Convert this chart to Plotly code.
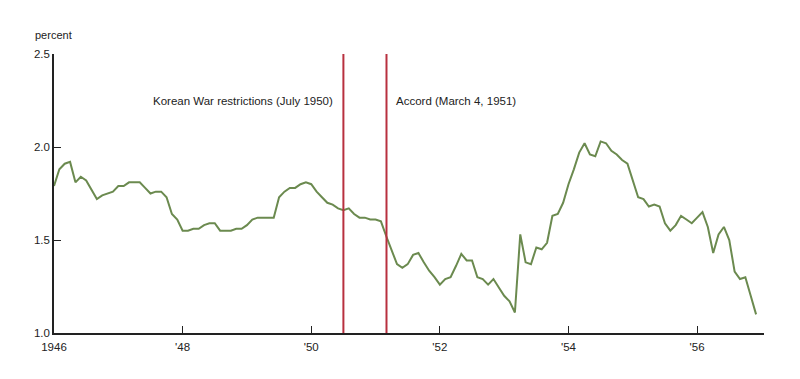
import plotly.graph_objects as go

start_year = 1946
values = [
    1.79, 1.88, 1.91, 1.92, 1.81, 1.84, 1.82, 1.77, 1.72, 1.74, 1.75, 1.76,
    1.79, 1.79, 1.81, 1.81, 1.81, 1.78, 1.75, 1.76, 1.76, 1.73, 1.64, 1.61,
    1.55, 1.55, 1.56, 1.56, 1.58, 1.59, 1.59, 1.55, 1.55, 1.55, 1.56, 1.56,
    1.58, 1.61, 1.62, 1.62, 1.62, 1.62, 1.73, 1.76, 1.78, 1.78, 1.80, 1.81,
    1.80, 1.76, 1.73, 1.70, 1.69, 1.67, 1.66, 1.67, 1.64, 1.62, 1.62, 1.61,
    1.61, 1.60, 1.52, 1.44, 1.37, 1.35, 1.37, 1.42, 1.43, 1.38, 1.335, 1.30,
    1.26, 1.29, 1.30, 1.36, 1.425, 1.39, 1.39, 1.30, 1.29, 1.26, 1.29, 1.245,
    1.20, 1.17, 1.11, 1.53, 1.38, 1.37, 1.46, 1.45, 1.485, 1.63, 1.64, 1.70,
    1.80, 1.88, 1.97, 2.02, 1.96, 1.95, 2.03, 2.02, 1.98, 1.96, 1.93, 1.91,
    1.82, 1.73, 1.72, 1.68, 1.69, 1.68, 1.59, 1.55, 1.58, 1.63, 1.61, 1.59,
    1.62, 1.65, 1.57, 1.43, 1.53, 1.57, 1.50, 1.33, 1.29, 1.30, 1.20, 1.10,
]
months = [start_year + i / 12 for i in range(len(values))]

tick_vals = [1946, 1948, 1950, 1952, 1954, 1956]
tick_text = ["1946", "'48", "'50", "'52", "'54", "'56"]
y_ticks = [1.0, 1.5, 2.0, 2.5]
y_tick_text = ["1.0", "1.5", "2.0", "2.5"]

event_dates = [1950.5, 1951.17]
event_labels = ["Korean War restrictions (July 1950)", "Accord (March 4, 1951)"]

FONT = "Liberation Sans, Arial, sans-serif"
fig = go.Figure()
fig.add_trace(go.Scatter(x=months, y=values, mode="lines",
                         line=dict(color="#6b8a4f", width=2), hoverinfo="skip"))

for d in event_dates:
    fig.add_shape(type="line", x0=d, x1=d, y0=1.0, y1=2.5, xref="x", yref="y",
                  line=dict(color="#b8303f", width=2))

fig.add_annotation(x=event_dates[0], y=2.25, xref="x", yref="y", text=event_labels[0],
                   showarrow=False, xanchor="right", xshift=-8,
                   font=dict(family=FONT, size=11.5, color="#222"))
fig.add_annotation(x=event_dates[1], y=2.25, xref="x", yref="y", text=event_labels[1],
                   showarrow=False, xanchor="left", xshift=8,
                   font=dict(family=FONT, size=11.5, color="#222"))
fig.add_annotation(x=-0.03, y=1.068, xref="paper", yref="paper", text="percent",
                   showarrow=False, xanchor="left", yanchor="middle",
                   font=dict(family=FONT, size=11, color="#222"))

fig.update_layout(
    width=800, height=379,
    margin=dict(l=46, r=44, t=46, b=54),
    paper_bgcolor="white", plot_bgcolor="white",
    showlegend=False,
    font=dict(family=FONT, size=11.5, color="#222"),
    xaxis=dict(range=[1946, 1957.04], tickvals=tick_vals, ticktext=tick_text,
               ticks="inside", ticklen=7, tickwidth=1.3, tickcolor="#222",
               showline=True, linecolor="#222", linewidth=1.5,
               showgrid=False, zeroline=False, ticklabelstandoff=2),
    yaxis=dict(range=[1.0, 2.5], tickvals=y_ticks, ticktext=y_tick_text,
               ticks="inside", ticklen=7, tickwidth=1.3, tickcolor="#222",
               showline=True, linecolor="#222", linewidth=1.5,
               showgrid=False, zeroline=False),
)

fig.write_html("out.html")
